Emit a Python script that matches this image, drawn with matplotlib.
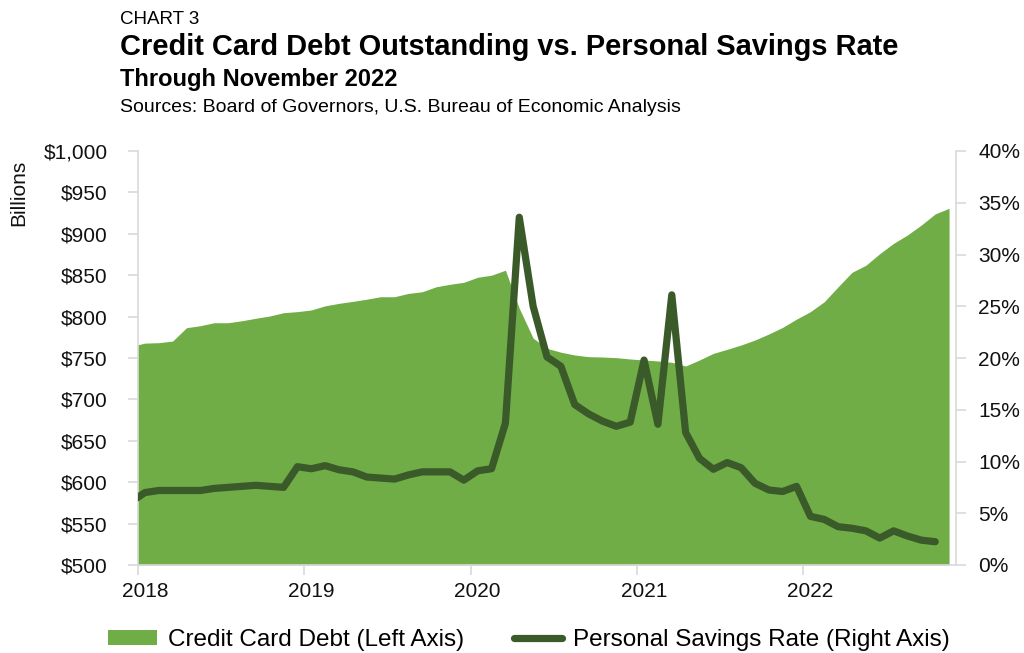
import matplotlib.pyplot as plt
from matplotlib.patches import Patch
from matplotlib.lines import Line2D

plt.rcParams['font.family'] = ['Liberation Sans', 'DejaVu Sans']

# monthly values, Dec 2017 onward (Dec 2017 sits just left of the axis and is clipped)
debt = [764, 768, 768.5, 770.5, 786.6, 789, 792.6, 792.6, 795, 798, 800.7, 804.7, 806,
        808, 813, 816, 818.4, 821, 824, 824, 828, 830, 836, 839, 841.4,
        847.5, 850, 856, 810, 774, 761.7, 757, 753.6, 751.6, 751.2, 750.4, 748.8,
        747.6, 746.4, 744.8, 740.3, 747.6, 755.6, 760.5, 765.7, 771.7, 779, 787, 797,
        806, 818, 836, 853.5, 862, 876, 888.5, 898.6, 910.6, 924, 930.8]
savings = [6.1, 7.0, 7.2, 7.2, 7.2, 7.2, 7.4, 7.5, 7.6, 7.7, 7.6, 7.5, 9.5,
           9.3, 9.6, 9.2, 9.0, 8.5, 8.4, 8.3, 8.7, 9.0, 9.0, 9.0, 8.2,
           9.1, 9.3, 13.7, 33.6, 25.0, 20.1, 19.2, 15.5, 14.6, 13.9, 13.4, 13.8,
           19.8, 13.6, 26.1, 12.8, 10.3, 9.25, 9.9, 9.4, 7.9, 7.25, 7.1, 7.6,
           4.7, 4.4, 3.7, 3.55, 3.3, 2.6, 3.3, 2.8, 2.4, 2.25]
years = ['2018', '2019', '2020', '2021', '2022']
left_ticks = list(range(500, 1001, 50))
right_ticks = list(range(0, 41, 5))

green = '#70ad47'
dark = '#3b5a2a'
grey = '#d9d9d9'

x_debt = [i - 0.5 for i in range(len(debt))]
x_sav = [i - 0.5 for i in range(len(savings))]

fig = plt.figure(figsize=(10.24, 6.53), dpi=100)
ax = fig.add_axes([138/1024, 88/653, 818/1024, 414/653])
ax.fill_between(x_debt, debt, 500, color=green, lw=0)
ax.set_xlim(0, 59)
ax.set_ylim(500, 1000)
ax.set_yticks(left_ticks)
ax.set_yticklabels(['${:,}'.format(v) for v in left_ticks])

ax.set_xticks([0, 12, 24, 36, 48])
ax.set_xticklabels([])
ax.set_xticks([12 * k + 0.5 for k in range(len(years))], minor=True)
ax.set_xticklabels(years, minor=True)
ax.tick_params(axis='x', which='major', length=7, width=1.2, color=grey)
ax.tick_params(axis='x', which='minor', length=0, pad=12, labelsize=15, labelcolor='#111111')
ax.tick_params(axis='y', length=7, width=1.2, color=grey, pad=15, labelsize=15, labelcolor='#111111')

ax2 = ax.twinx()
ax2.plot(x_sav, savings, color=dark, lw=5.2, solid_capstyle='round', solid_joinstyle='round')
ax2.set_ylim(0, 40)
ax2.set_yticks(right_ticks)
ax2.set_yticklabels(['{}%'.format(v) for v in right_ticks])
ax2.tick_params(axis='y', length=7, width=1.2, color=grey, pad=9, labelsize=15, labelcolor='#111111')

for a in (ax, ax2):
    a.spines['top'].set_visible(False)
    for s in a.spines.values():
        s.set_color(grey)
        s.set_linewidth(1.2)
ax.spines['right'].set_visible(False)
ax2.spines['left'].set_visible(False)
ax2.spines['bottom'].set_visible(False)

fig.text(19/1024, 1 - 193/653, 'Billions', rotation=90, ha='center', va='center', fontsize=15, color='#111111')

fig.text(120/1024, 1 - 23.5/653, 'CHART 3', fontsize=13.5, va='baseline')
fig.text(120/1024, 1 - 55/653, 'Credit Card Debt Outstanding vs. Personal Savings Rate',
         fontsize=20.9, fontweight='bold', va='baseline')
fig.text(120/1024, 1 - 86/653, 'Through November 2022', fontsize=17, fontweight='bold', va='baseline')
fig.text(120/1024, 1 - 111.5/653, 'Sources: Board of Governors, U.S. Bureau of Economic Analysis',
         fontsize=14, va='baseline')

handles = [Patch(facecolor=green, edgecolor='none'),
           Line2D([], [], color=dark, lw=5.2, solid_capstyle='round')]
fig.legend(handles, ['Credit Card Debt (Left Axis)', 'Personal Savings Rate (Right Axis)'],
           loc='center', bbox_to_anchor=(529/1024, 1 - 640/653), ncol=2, frameon=False,
           fontsize=17.5, handlelength=2.0, handleheight=0.53, handletextpad=0.45, columnspacing=2.05)

fig.savefig('out.png', dpi=100)
